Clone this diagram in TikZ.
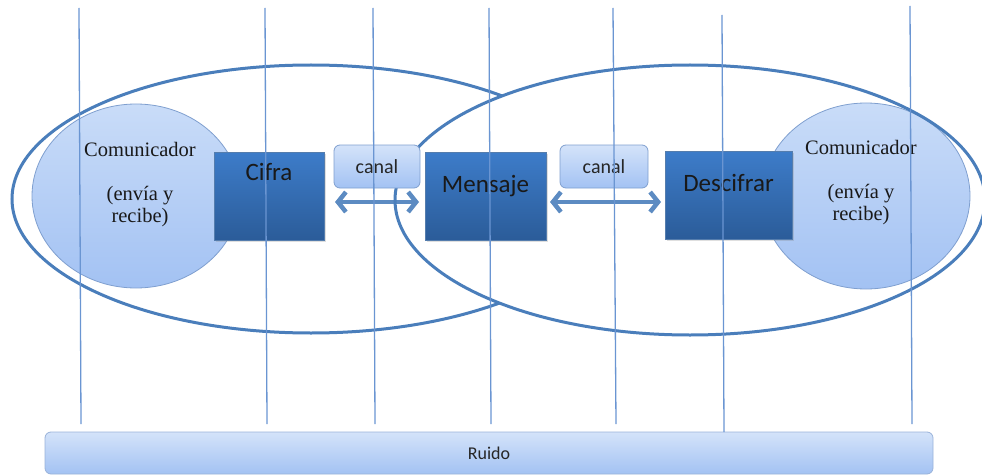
\documentclass[tikz,border=0pt]{standalone}
\usepackage{fontspec}
\setmainfont{Liberation Serif}
\newfontfamily\calibri{Carlito}
\usetikzlibrary{arrows.meta,shadows,shapes.geometric}

\definecolor{linea}{HTML}{4A7EBB}
\definecolor{vline}{HTML}{6A95D2}
\definecolor{claro}{HTML}{C9DCF8}
\definecolor{claroB}{HTML}{A3C2F3}
\definecolor{oscuro}{HTML}{3D7CC9}
\definecolor{oscuroB}{HTML}{2B5C99}
\definecolor{borde}{HTML}{7F9FCF}

\tikzset{
    comunicador/.style = {ellipse, draw = borde, thick, top color = claro, bottom color = claroB},
    comtext/.style = {align = center, text = black!90, font = \fontsize{20.5}{22}\selectfont},
    darkbox/.style = {draw = oscuroB!80, fill = oscuro, top color = oscuro, bottom color = oscuroB,
                      drop shadow = {opacity = 0.25, shadow xshift = 2pt, shadow yshift = -2pt}},
    boxtext/.style = {text = black!90, font = \calibri\fontsize{25}{28}\selectfont},
    canalbox/.style = {draw = borde, thick, rounded corners = 6pt, top color = claro!80, bottom color = claroB,
                       font = \calibri\fontsize{20}{22}\selectfont, text = black!85},
    flecha/.style = {{Straight Barb[length = 8pt, width = 20pt]}-{Straight Barb[length = 8pt, width = 20pt]},
                     line width = 4.5pt, linea!90},
    grande/.style = {linea, line width = 3pt}
}

\begin{document}
\begin{tikzpicture}[x = 1pt, y = -1pt]
        \useasboundingbox (0,0) rectangle (982,476);

        % communicators
        \node[comunicador, minimum width = 208pt, minimum height = 184pt] (com1) at (136,196) {};
        \node[comunicador, minimum width = 208pt, minimum height = 186pt] (com2) at (866,196) {};
        \node[comtext] (com1t) at (140,185) {Comunicador\\[22pt](envía y\\recibe)};
        \node[comtext] (com2t) at (861,183) {Comunicador\\[22pt](envía y\\recibe)};

        % arrows through the channels
        \draw[flecha] (335,202) -- (419,202);
        \draw[flecha] (550,202) -- (661,202);

        % big ellipses (left one only outside the right one)
        \begin{scope}[even odd rule]
            \clip (-20,-20) rectangle (1010,500)
                (690,200) ellipse [x radius = 295, y radius = 135];
            \draw[grande] (311,199) ellipse [x radius = 299, y radius = 134];
        \end{scope}
        \draw[grande] (690,200) ellipse [x radius = 295, y radius = 135];

        % boxes
        \node[darkbox, minimum width = 110pt, minimum height = 88pt] (cifra) at (269,196) {};
        \node[boxtext] (cifrat) at ([yshift = -20pt]cifra.north) {Cifra};
        \node[darkbox, minimum width = 121pt, minimum height = 88pt] (mensaje) at (485.5,196) {};
        \node[boxtext] (mensajet) at ([yshift = 10pt]mensaje.center) {Mensaje};
        \node[darkbox, minimum width = 127pt, minimum height = 88pt] (descifrar) at (728.5,195) {};
        \node[boxtext] (descifrart) at ([yshift = 12pt]descifrar.center) {Descifrar};

        % channels
        \node[canalbox, minimum width = 86pt, minimum height = 43pt] (canal1) at (377,166.5) {canal};
        \node[canalbox, minimum width = 88pt, minimum height = 43pt] (canal2) at (604,166.5) {canal};

        % noise
        \node[canalbox, draw = borde!80, minimum width = 888pt, minimum height = 42pt,
              font = \calibri\fontsize{18}{20}\selectfont] (ruido) at (489,453) {Ruido};

        % vertical lines
        \foreach \xa/\ya/\xb/\yb in {79/8/81/424, 265/8/267/424, 373/8/375/424, 489/8/491/424,
                                     613/8/616/424, 722/15/724/432, 910/6/912/424}
            \draw[vline, line width = 1.3pt] (\xa,\ya) -- (\xb,\yb);
    \end{tikzpicture}
\end{document}
